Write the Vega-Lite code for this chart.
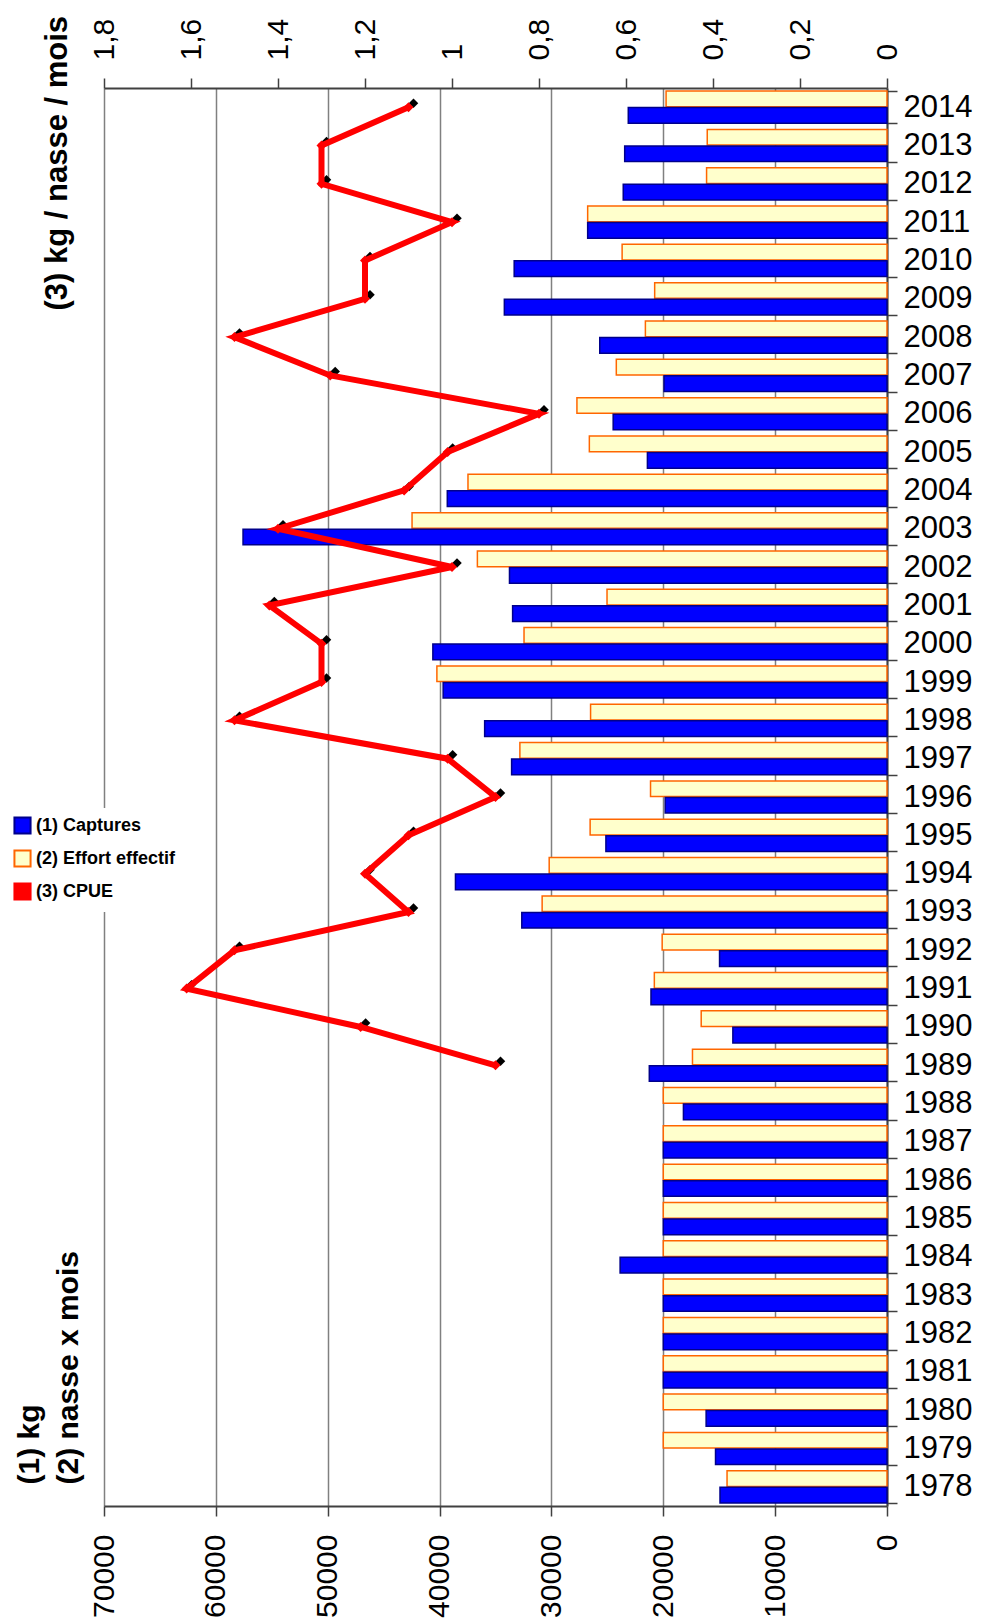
{
  "$schema": "https://vega.github.io/schema/vega-lite/v6.json",
  "width": 783,
  "height": 1418,
  "autosize": {"type": "none"},
  "padding": {"left": 104, "top": 88, "right": 96, "bottom": 118},
  "background": "white",
  "config": {
    "font": "Liberation Sans",
    "view": {"stroke": null},
    "axis": {"labelColor": "black", "titleColor": "black", "domainColor": "#404040", "tickColor": "#404040", "domainWidth": 2, "tickWidth": 1.5}
  },
  "data": {
    "values": [
      {"year": 1978, "captures": 14930, "effort": 14300, "cpue": null},
      {"year": 1979, "captures": 15330, "effort": 20000, "cpue": null},
      {"year": 1980, "captures": 16170, "effort": 20000, "cpue": null},
      {"year": 1981, "captures": 20000, "effort": 20000, "cpue": null},
      {"year": 1982, "captures": 20000, "effort": 20000, "cpue": null},
      {"year": 1983, "captures": 20000, "effort": 20000, "cpue": null},
      {"year": 1984, "captures": 23860, "effort": 20000, "cpue": null},
      {"year": 1985, "captures": 20000, "effort": 20000, "cpue": null},
      {"year": 1986, "captures": 20000, "effort": 20000, "cpue": null},
      {"year": 1987, "captures": 20000, "effort": 20000, "cpue": null},
      {"year": 1988, "captures": 18200, "effort": 20000, "cpue": null},
      {"year": 1989, "captures": 21250, "effort": 17390, "cpue": 0.90},
      {"year": 1990, "captures": 13780, "effort": 16610, "cpue": 1.21},
      {"year": 1991, "captures": 21100, "effort": 20800, "cpue": 1.61},
      {"year": 1992, "captures": 14970, "effort": 20100, "cpue": 1.50},
      {"year": 1993, "captures": 32650, "effort": 30830, "cpue": 1.10},
      {"year": 1994, "captures": 38580, "effort": 30200, "cpue": 1.20},
      {"year": 1995, "captures": 25130, "effort": 26540, "cpue": 1.10},
      {"year": 1996, "captures": 19830, "effort": 21140, "cpue": 0.90},
      {"year": 1997, "captures": 33560, "effort": 32820, "cpue": 1.01},
      {"year": 1998, "captures": 35970, "effort": 26500, "cpue": 1.50},
      {"year": 1999, "captures": 39680, "effort": 40240, "cpue": 1.30},
      {"year": 2000, "captures": 40600, "effort": 32450, "cpue": 1.30},
      {"year": 2001, "captures": 33470, "effort": 25030, "cpue": 1.42},
      {"year": 2002, "captures": 33750, "effort": 36620, "cpue": 1.00},
      {"year": 2003, "captures": 57570, "effort": 42460, "cpue": 1.40},
      {"year": 2004, "captures": 39310, "effort": 37460, "cpue": 1.11},
      {"year": 2005, "captures": 21420, "effort": 26610, "cpue": 1.01},
      {"year": 2006, "captures": 24480, "effort": 27720, "cpue": 0.80},
      {"year": 2007, "captures": 19930, "effort": 24200, "cpue": 1.28},
      {"year": 2008, "captures": 25680, "effort": 21600, "cpue": 1.50},
      {"year": 2009, "captures": 34210, "effort": 20770, "cpue": 1.20},
      {"year": 2010, "captures": 33330, "effort": 23680, "cpue": 1.20},
      {"year": 2011, "captures": 26760, "effort": 26760, "cpue": 1.00},
      {"year": 2012, "captures": 23580, "effort": 16130, "cpue": 1.30},
      {"year": 2013, "captures": 23450, "effort": 16070, "cpue": 1.30},
      {"year": 2014, "captures": 23130, "effort": 19750, "cpue": 1.10}
    ]
  },
  "encoding": {
    "y": {
      "field": "year",
      "type": "ordinal",
      "sort": "descending",
      "scale": {"paddingInner": 0.16, "paddingOuter": 0.08},
      "axis": {
        "orient": "right",
        "title": null,
        "labelAngle": 0,
        "labelAlign": "left",
        "labelBaseline": "middle",
        "labelFontSize": 31,
        "labelPadding": 6,
        "tickSize": 10,
        "tickBand": "extent",
        "labelOverlap": false
      }
    }
  },
  "layer": [
    {
      "transform": [{"fold": ["effort", "captures"], "as": ["series", "value"]}],
      "mark": {"type": "bar", "strokeWidth": 1.5},
      "encoding": {
        "x": {
          "field": "value",
          "type": "quantitative",
          "scale": {"domain": [0, 70000], "reverse": true, "nice": false, "zero": true},
          "axis": {
            "orient": "bottom",
            "values": [0, 10000, 20000, 30000, 40000, 50000, 60000, 70000],
            "format": "d",
            "grid": true,
            "gridColor": "#808080",
            "gridWidth": 1.5,
            "labelAngle": 270,
            "labelFontSize": 30,
            "labelPadding": 18,
            "labelFlush": false,
            "labelOverlap": false,
            "tickSize": 10,
            "title": ["(1) kg", "(2) nasse x mois"],
            "titleAngle": 270,
            "titleAlign": "left",
            "titleBaseline": "middle",
            "titleX": -75,
            "titleY": -22,
            "titleFontSize": 30,
            "titleFontWeight": "bold",
            "titleLineHeight": 39
          }
        },
        "yOffset": {"field": "series", "sort": ["effort", "captures"], "scale": {"paddingInner": 0.05}},
        "color": {
          "field": "series",
          "type": "nominal",
          "scale": {"domain": ["captures", "effort", "cpue"], "range": ["#0000FF", "#FFFFCC", "#FF0000"]},
          "legend": {
            "orient": "none",
            "legendX": -99,
            "legendY": 720,
            "direction": "vertical",
            "title": null,
            "labelExpr": "datum.label == 'captures' ? '(1) Captures' : datum.label == 'effort' ? '(2) Effort effectif' : '(3) CPUE'",
            "labelFontSize": 18,
            "labelFontWeight": "bold",
            "labelColor": "black",
            "symbolType": "square",
            "symbolSize": 260,
            "symbolStrokeWidth": 2,
            "fillColor": "white",
            "padding": 8,
            "rowPadding": 8
          }
        },
        "stroke": {
          "field": "series",
          "type": "nominal",
          "scale": {"domain": ["captures", "effort", "cpue"], "range": ["#00008B", "#FF6600", "#FF0000"]},
          "legend": {
            "orient": "none",
            "legendX": -99,
            "legendY": 720,
            "direction": "vertical",
            "title": null,
            "labelExpr": "datum.label == 'captures' ? '(1) Captures' : datum.label == 'effort' ? '(2) Effort effectif' : '(3) CPUE'",
            "labelFontSize": 18,
            "labelFontWeight": "bold",
            "labelColor": "black",
            "symbolType": "square",
            "symbolSize": 260,
            "symbolStrokeWidth": 2,
            "fillColor": "white",
            "padding": 8,
            "rowPadding": 8
          }
        }
      }
    },
    {
      "transform": [{"filter": "isValid(datum.cpue)"}],
      "encoding": {
        "x": {
          "field": "cpue",
          "type": "quantitative",
          "scale": {"domain": [0, 1.8], "reverse": true, "nice": false},
          "axis": {
            "orient": "top",
            "values": [0, 0.2, 0.4, 0.6, 0.8, 1, 1.2, 1.4, 1.6, 1.8],
            "labelExpr": "replace(toString(round(datum.value * 10) / 10), '.', ',')",
            "grid": false,
            "labelAngle": 270,
            "labelFontSize": 30,
            "labelPadding": 18,
            "labelFlush": false,
            "labelOverlap": false,
            "tickSize": 10,
            "title": "(3) kg / nasse / mois",
            "titleAngle": 270,
            "titleAlign": "left",
            "titleBaseline": "middle",
            "titleX": -47,
            "titleY": 222,
            "titleFontSize": 31,
            "titleFontWeight": "bold"
          }
        },
        "order": {"field": "year", "type": "quantitative"}
      },
      "layer": [
        {"mark": {"type": "point", "shape": "diamond", "filled": true, "color": "black", "opacity": 1, "size": 90, "xOffset": 5, "yOffset": -4}},
        {"mark": {"type": "line", "color": "#FF0000", "strokeWidth": 6}},
        {"mark": {"type": "point", "shape": "diamond", "filled": true, "color": "#FF0000", "opacity": 1, "size": 100}}
      ]
    }
  ],
  "resolve": {"scale": {"x": "independent"}}
}
